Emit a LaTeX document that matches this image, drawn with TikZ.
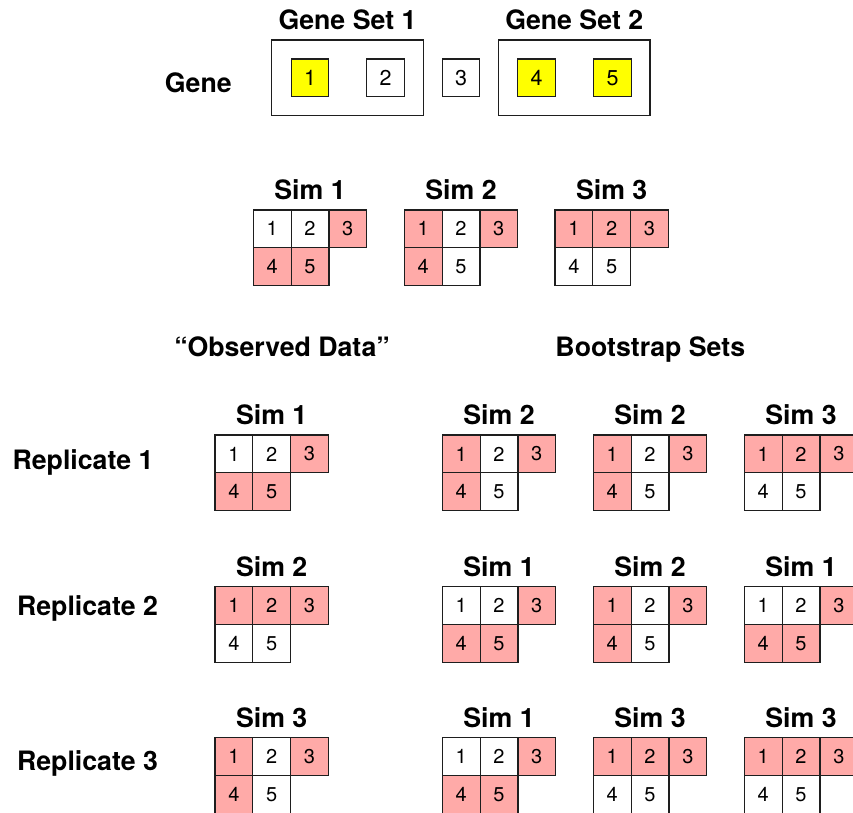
\documentclass[tikz,border=0pt]{standalone}
\usepackage{fontspec}
\setmainfont{TeX Gyre Heros}
\usetikzlibrary{positioning}

\definecolor{hitpink}{RGB}{255,170,168}
\definecolor{setyellow}{RGB}{255,255,0}
\definecolor{edge}{RGB}{30,30,30}

\tikzset{
  cellbox/.style={draw=edge, line width=1.2pt, minimum width=37.8pt,
    minimum height=37.8pt, inner sep=0pt, outer sep=0pt, anchor=north west,
    font=\fontsize{20}{22}\selectfont},
  genecell/.style={draw=edge, line width=1.2pt, minimum width=37.7pt,
    minimum height=37.7pt, inner sep=0pt, outer sep=0pt,
    font=\fontsize{21.5}{23}\selectfont},
  setbox/.style={draw=edge, line width=1.4pt},
  lbl/.style={font=\bfseries\fontsize{26.7}{30}\selectfont, inner sep=0pt,
    anchor=base},
  hit/.style={fill=hitpink},
  miss/.style={fill=white},
}

% One simulated outcome: cells 1 2 3 on top, 4 5 below, with a heading.
% #1 name, #2 left x, #3 top y, #4 heading, #5-#9 styles of cells 1-5
\newcommand\simgrid[9]{%
  \node[cellbox,#5] (#1-1) at (#2,#3) {1};
  \node[cellbox,#6] (#1-2) at (#1-1.north east) {2};
  \node[cellbox,#7] (#1-3) at (#1-2.north east) {3};
  \node[cellbox,#8] (#1-4) at (#1-1.south west) {4};
  \node[cellbox,#9] (#1-5) at (#1-4.north east) {5};
  \node[lbl] (#1-h) at (#2+56.7,#3-10.7) {#4};
}

\begin{document}
\begin{tikzpicture}[x=1pt,y=-1pt]
\useasboundingbox (0,0) rectangle (853,812);
\clip (0,0) rectangle (853,812);

% genes and gene sets
\node[lbl] (genes) at (198.3,92) {Gene};
\draw[setbox] (271.7,40) rectangle (423.3,115.7);
\draw[setbox] (498.3,40) rectangle (650,115.7);
\node[lbl] (set1) at (347.5,29.5) {Gene Set 1};
\node[lbl] (set2) at (574.2,29.5) {Gene Set 2};
\node[genecell,fill=setyellow] (g1) at (310,77.8) {1};
\node[genecell] (g2) at (385.5,77.8) {2};
\node[genecell] (g3) at (461,77.8) {3};
\node[genecell,fill=setyellow] (g4) at (536.7,77.8) {4};
\node[genecell,fill=setyellow] (g5) at (612.5,77.8) {5};

% the three simulations
\simgrid{sa}{253.3}{210}{Sim 1}{miss}{miss}{hit}{hit}{hit}
\simgrid{sb}{404.3}{210}{Sim 2}{hit}{miss}{hit}{hit}{miss}
\simgrid{sc}{555}{210}{Sim 3}{hit}{hit}{hit}{miss}{miss}

% column headings
\node[lbl] (obs) at (282,356) {“Observed Data”};
\node[lbl] (boot) at (650.3,356) {Bootstrap Sets};

% replicate 1
\node[lbl] (rep1) at (83,469) {Replicate 1};
\simgrid{ra}{215}{435}{Sim 1}{miss}{miss}{hit}{hit}{hit}
\simgrid{raa}{442.3}{435}{Sim 2}{hit}{miss}{hit}{hit}{miss}
\simgrid{rab}{593.3}{435}{Sim 2}{hit}{miss}{hit}{hit}{miss}
\simgrid{rac}{744.3}{435}{Sim 3}{hit}{hit}{hit}{miss}{miss}

% replicate 2
\node[lbl] (rep2) at (87.5,615.5) {Replicate 2};
\simgrid{rb}{215}{586.7}{Sim 2}{hit}{hit}{hit}{miss}{miss}
\simgrid{rba}{442.3}{586.7}{Sim 1}{miss}{miss}{hit}{hit}{hit}
\simgrid{rbb}{593.3}{586.7}{Sim 2}{hit}{miss}{hit}{hit}{miss}
\simgrid{rbc}{744.3}{586.7}{Sim 1}{miss}{miss}{hit}{hit}{hit}

% replicate 3
\node[lbl] (rep3) at (87.5,770.5) {Replicate 3};
\simgrid{rc}{215}{737.7}{Sim 3}{hit}{miss}{hit}{hit}{miss}
\simgrid{rca}{442.3}{737.7}{Sim 1}{miss}{miss}{hit}{hit}{hit}
\simgrid{rcb}{593.3}{737.7}{Sim 3}{hit}{hit}{hit}{miss}{miss}
\simgrid{rcc}{744.3}{737.7}{Sim 3}{hit}{hit}{hit}{miss}{miss}
\end{tikzpicture}
\end{document}
